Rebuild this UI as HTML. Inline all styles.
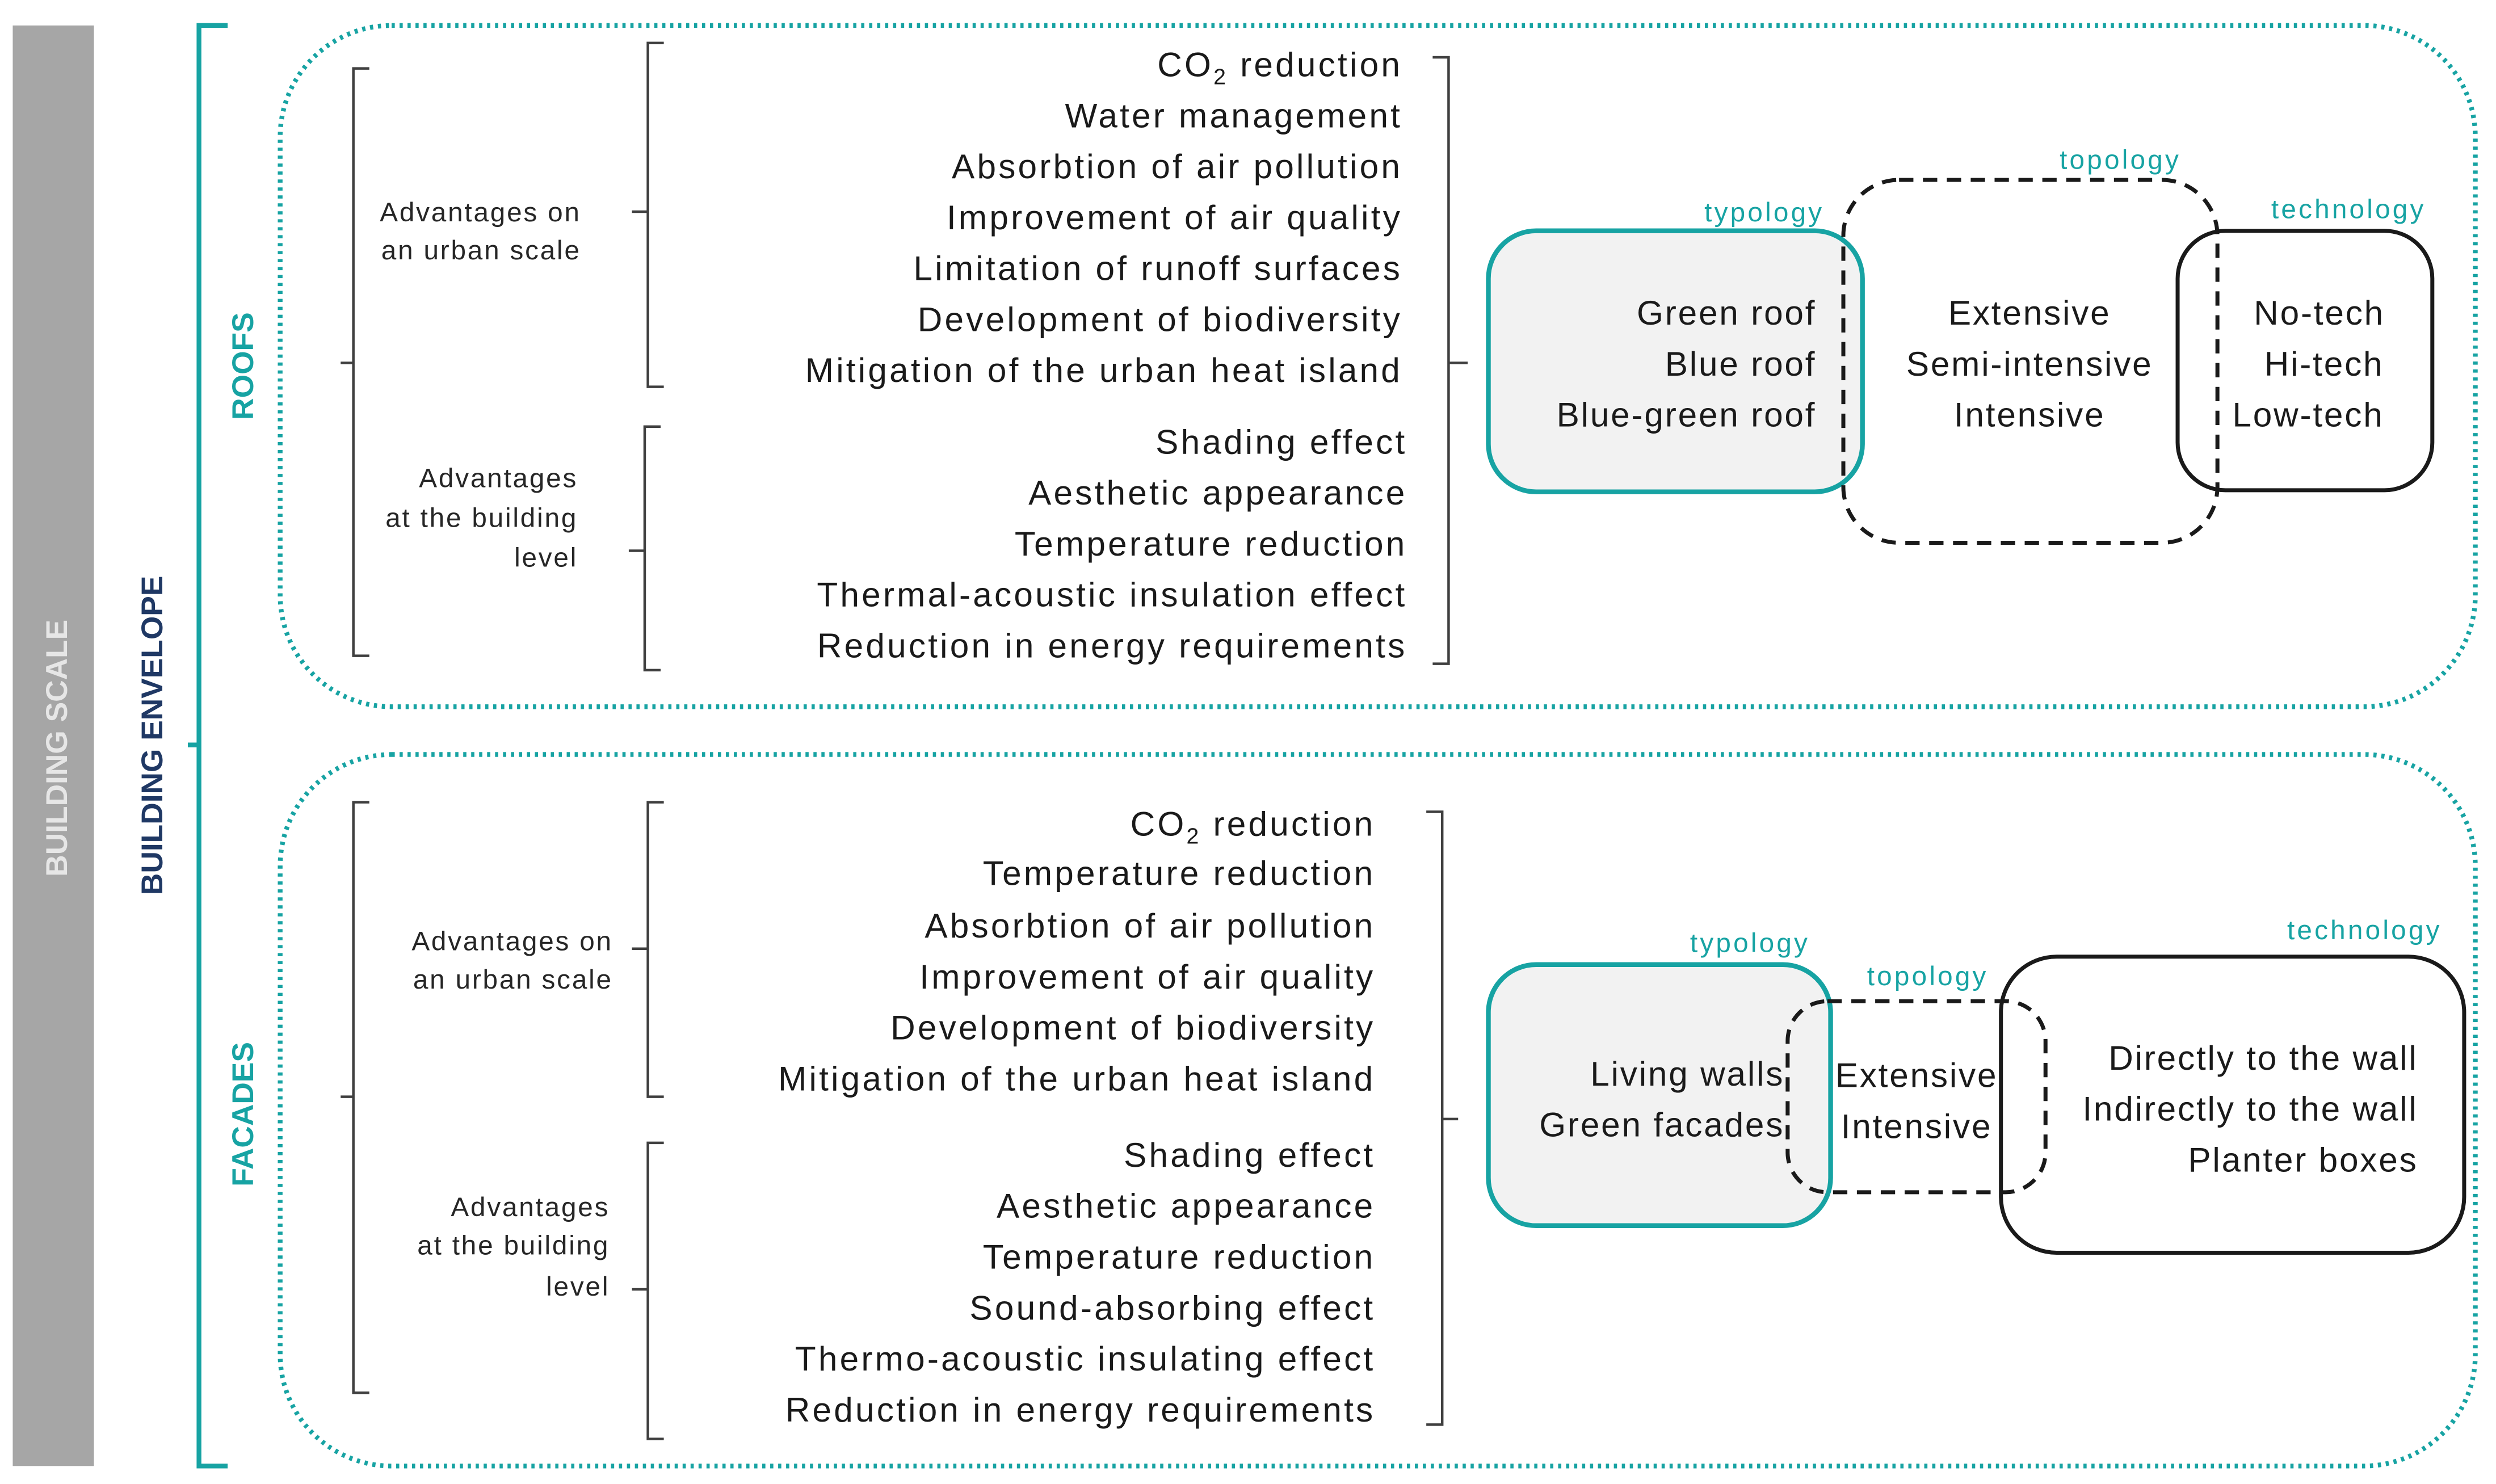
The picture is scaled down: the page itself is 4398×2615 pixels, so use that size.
<!DOCTYPE html>
<html><head><meta charset="utf-8"><style>html,body{margin:0;padding:0;background:#fff}svg{display:block}</style></head>
<body>
<svg width="4398" height="2615" viewBox="0 0 1568 932.3" preserveAspectRatio="none" xmlns="http://www.w3.org/2000/svg" font-family="Liberation Sans, sans-serif">
<rect x="8" y="16" width="51" height="905" fill="#a6a6a6"/>
<text transform="translate(42,470) rotate(-90)" text-anchor="middle" font-size="19" font-weight="bold" fill="#e6e6e6">BUILDING SCALE</text>
<path d="M143,16 H125 V468 H118 M125,468 V921 H143" fill="none" stroke="#17a3a3" stroke-width="3"/>
<text transform="translate(102,462) rotate(-90)" text-anchor="middle" font-size="19" font-weight="bold" fill="#1f3864">BUILDING ENVELOPE</text>
<rect x="176" y="16" width="1379" height="428" rx="70" fill="none" stroke="#17a3a3" stroke-width="3" stroke-dasharray="2 3"/>
<rect x="176" y="474" width="1379" height="447" rx="70" fill="none" stroke="#17a3a3" stroke-width="3" stroke-dasharray="2 3"/>
<text transform="translate(159,230) rotate(-90)" text-anchor="middle" font-size="19" font-weight="bold" fill="#17a3a3">ROOFS</text>
<text transform="translate(159,700) rotate(-90)" text-anchor="middle" font-size="19" font-weight="bold" fill="#17a3a3">FACADES</text>
<g fill="none" stroke="#404040" stroke-width="1.6">
<path d="M232,43 H222 V228 H214 M222,228 V412 H232"/>
<path d="M417,27 H407 V133 H397 M407,133 V243 H417"/>
<path d="M415,268 H405 V346 H395 M405,346 V421 H415"/>
<path d="M900,36 H910 V228 H922 M910,228 V417 H900"/>
<path d="M232,504 H222 V689 H214 M222,689 V875 H232"/>
<path d="M417,504 H407 V596 H397 M407,596 V689 H417"/>
<path d="M417,718 H407 V810 H397 M407,810 V904 H417"/>
<path d="M896,510 H906 V703 H916 M906,703 V895 H896"/>
</g>
<g font-size="17" fill="#262626" text-anchor="end" letter-spacing="1">
<text x="365" y="139">Advantages on</text><text x="365" y="163">an urban scale</text>
<text x="363" y="306">Advantages</text><text x="363" y="331">at the building</text><text x="363" y="356">level</text>
<text x="385" y="597">Advantages on</text><text x="385" y="621">an urban scale</text>
<text x="383" y="764">Advantages</text><text x="383" y="788">at the building</text><text x="383" y="814">level</text>
</g>
<g font-size="21.5" fill="#1a1a1a" text-anchor="end" letter-spacing="1.5">
<text x="881" y="48">CO<tspan font-size="14" dy="5">2</tspan><tspan dy="-5"> reduction</tspan></text>
<text x="881" y="80">Water management</text>
<text x="881" y="112">Absorbtion of air pollution</text>
<text x="881" y="144">Improvement of air quality</text>
<text x="881" y="176">Limitation of runoff surfaces</text>
<text x="881" y="208">Development of biodiversity</text>
<text x="881" y="240">Mitigation of the urban heat island</text>
<text x="884" y="285">Shading effect</text>
<text x="884" y="317">Aesthetic appearance</text>
<text x="884" y="349">Temperature reduction</text>
<text x="884" y="381">Thermal-acoustic insulation effect</text>
<text x="884" y="413">Reduction in energy requirements</text>
<text x="864" y="525">CO<tspan font-size="14" dy="5">2</tspan><tspan dy="-5"> reduction</tspan></text>
<text x="864" y="556">Temperature reduction</text>
<text x="864" y="589">Absorbtion of air pollution</text>
<text x="864" y="621">Improvement of air quality</text>
<text x="864" y="653">Development of biodiversity</text>
<text x="864" y="685">Mitigation of the urban heat island</text>
<text x="864" y="733">Shading effect</text>
<text x="864" y="765">Aesthetic appearance</text>
<text x="864" y="797">Temperature reduction</text>
<text x="864" y="829">Sound-absorbing effect</text>
<text x="864" y="861">Thermo-acoustic insulating effect</text>
<text x="864" y="893">Reduction in energy requirements</text>
</g>
<!-- roofs boxes -->
<rect x="935" y="145" width="235" height="164" rx="30" fill="#f2f2f2" stroke="#17a3a3" stroke-width="3"/>
<rect x="1158" y="113" width="235" height="228" rx="35" fill="none" stroke="#1a1a1a" stroke-width="2.5" stroke-dasharray="9 6"/>
<rect x="1368" y="145" width="160" height="163" rx="30" fill="none" stroke="#1a1a1a" stroke-width="2.5"/>
<g font-size="21.5" fill="#1a1a1a" letter-spacing="1">
<g text-anchor="end"><text x="1141" y="204">Green roof</text><text x="1141" y="236">Blue roof</text><text x="1141" y="268">Blue-green roof</text></g>
<g text-anchor="middle"><text x="1275" y="204">Extensive</text><text x="1275" y="236">Semi-intensive</text><text x="1275" y="268">Intensive</text>
<text x="1457" y="204">No-tech</text><text x="1460" y="236">Hi-tech</text><text x="1450" y="268">Low-tech</text></g>
</g>
<!-- facades boxes -->
<rect x="935" y="606" width="215" height="164" rx="30" fill="#f2f2f2" stroke="#17a3a3" stroke-width="3"/>
<rect x="1123" y="629" width="162" height="120" rx="25" fill="none" stroke="#1a1a1a" stroke-width="2.5" stroke-dasharray="9 6"/>
<rect x="1257" y="601" width="291" height="186" rx="35" fill="none" stroke="#1a1a1a" stroke-width="2.5"/>
<g font-size="21.5" fill="#1a1a1a" letter-spacing="1">
<g text-anchor="end"><text x="1121" y="682">Living walls</text><text x="1121" y="714">Green facades</text>
<text x="1519" y="672">Directly to the wall</text><text x="1519" y="704">Indirectly to the wall</text><text x="1519" y="736">Planter boxes</text></g>
<g text-anchor="middle"><text x="1204" y="683">Extensive</text><text x="1204" y="715">Intensive</text></g>
</g>
<g font-size="17" fill="#17a3a3" letter-spacing="1.5">
<text x="1146" y="139" text-anchor="end">typology</text>
<text x="1332" y="106" text-anchor="middle">topology</text>
<text x="1524" y="137" text-anchor="end">technology</text>
<text x="1137" y="598" text-anchor="end">typology</text>
<text x="1211" y="619" text-anchor="middle">topology</text>
<text x="1534" y="590" text-anchor="end">technology</text>
</g>
</svg>
</body></html>
